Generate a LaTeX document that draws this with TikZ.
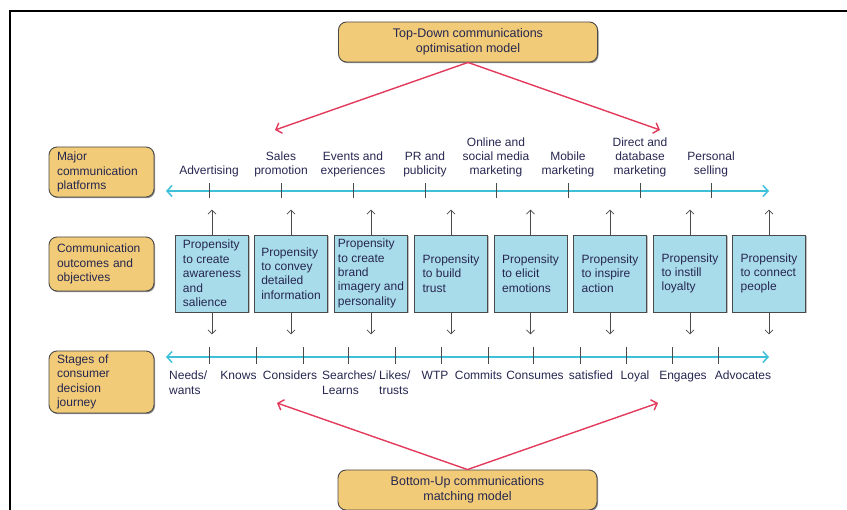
\documentclass[tikz,border=0pt]{standalone}
\usepackage{fontspec}
\setmainfont{Liberation Sans}
\usetikzlibrary{arrows.meta,shadows}
\definecolor{gold}{HTML}{F1CB77}
\definecolor{boxline}{HTML}{4A4A4A}
\definecolor{paleblue}{HTML}{A9DCEA}
\definecolor{cyanl}{HTML}{3EC1D8}
\definecolor{redl}{HTML}{E23A5C}
\definecolor{navy}{HTML}{262650}
\tikzset{
  txt/.style={font=\fontsize{12}{14.4}\selectfont, text=navy, inner sep=0pt},
  goldbox/.style={txt, draw=boxline, fill=gold, rounded corners=8pt, line width=0.9pt,
    drop shadow={shadow xshift=1pt, shadow yshift=-1.2pt, fill=black, opacity=0.45}},
  sidebox/.style={goldbox, text width=89pt, inner xsep=8pt, align=left, minimum width=105pt},
  bluebox/.style={txt, draw=boxline, fill=paleblue, line width=0.9pt, align=left,
    minimum width=73pt, minimum height=77pt,
    drop shadow={shadow xshift=1pt, shadow yshift=-1pt, fill=black, opacity=0.25}},
  redarrow/.style={draw=redl, line width=1.4pt, -{Straight Barb[length=5pt, width=11pt]}},
  cyanline/.style={draw=cyanl, line width=1.5pt, {Straight Barb[length=5pt, width=11pt]}-{Straight Barb[length=5pt, width=11pt]}},
  tickmark/.style={draw=boxline, line width=0.9pt},
  blackarrow/.style={draw=boxline, line width=0.8pt, -{Straight Barb[length=4pt, width=8pt]}},
}
\begin{document}
\begin{tikzpicture}[x=1pt, y=-1pt]
\useasboundingbox (0,0) rectangle (847,510);
% frame
\draw[line width=1.4pt, black] (10,512) -- (10,11) -- (849,11);

% model boxes
\node[goldbox, align=center, minimum width=259pt, minimum height=40pt, font=\fontsize{12.5}{14.8}\selectfont] (top) at (468,42) {Top-Down communications\\optimisation model};
\node[goldbox, align=center, minimum width=259pt, minimum height=40pt, font=\fontsize{12.5}{14.8}\selectfont] (bottom) at (467.5,490) {Bottom-Up communications\\matching model};

\coordinate (tdl) at (275,130);
\coordinate (tdr) at (660,130);
\coordinate (bul) at (277,403);
\coordinate (bur) at (658,403);
\draw[redarrow] (top.south) -- (tdl);
\draw[redarrow] (top.south) -- (tdr);
\draw[redarrow] (bottom.north) -- (bul);
\draw[redarrow] (bottom.north) -- (bur);

% side boxes
\node[sidebox, minimum height=50pt] (platforms) at (101.5,172) {Major\\communication\\platforms};
\node[sidebox, minimum height=54pt] (outcomes) at (101.5,264) {Communication\\outcomes and\\objectives};
\node[sidebox, minimum height=62pt] (stages) at (101.5,382) {Stages of\\consumer\\decision\\journey};

% platform axis
\coordinate (pa0) at (166,191);
\coordinate (pa1) at (769,191);
\draw[cyanline] (pa0) -- (pa1);
\foreach \x in {209,281,353,425,496,568,640,711} \draw[tickmark] (\x,183) -- (\x,198);

\node[txt, anchor=base, align=center] (p1) at (209,175) {Advertising};
\node[txt, anchor=base, align=center] (p2) at (281,175) {Sales\\promotion};
\node[txt, anchor=base, align=center] (p3) at (353,175) {Events and\\experiences};
\node[txt, anchor=base, align=center] (p4) at (425,175) {PR and\\publicity};
\node[txt, anchor=base, align=center] (p5) at (496,175) {Online and\\social media\\marketing};
\node[txt, anchor=base, align=center] (p6) at (568,175) {Mobile\\marketing};
\node[txt, anchor=base, align=center] (p7) at (640,175) {Direct and\\database\\marketing};
\node[txt, anchor=base, align=center] (p8) at (711,175) {Personal\\selling};

% outcome boxes
\node[bluebox] (b1) at (212,273.5) {Propensity\\to create\\awareness\\and\\salience};
\node[bluebox] (b2) at (291,273.5) {Propensity\\to convey\\detailed\\information};
\node[bluebox] (b3) at (371,273.5) {Propensity\\to create\\brand\\imagery and\\personality};
\node[bluebox] (b4) at (451,273.5) {Propensity\\to build\\trust};
\node[bluebox] (b5) at (530.5,273.5) {Propensity\\to elicit\\emotions};
\node[bluebox] (b6) at (610,273.5) {Propensity\\to inspire\\action};
\node[bluebox] (b7) at (690,273.5) {Propensity\\to instill\\loyalty};
\node[bluebox] (b8) at (769,273.5) {Propensity\\to connect\\people};

\foreach \i in {1,...,8} {
  \coordinate (u\i) at ([yshift=25pt]b\i.north);
  \coordinate (d\i) at ([yshift=-22pt]b\i.south);
  \draw[blackarrow] (b\i.north) -- (u\i);
  \draw[blackarrow] (b\i.south) -- (d\i);
}

% journey axis
\coordinate (ja0) at (166,357);
\coordinate (ja1) at (769,357);
\draw[cyanline] (ja0) -- (ja1);
\foreach \x in {209,256,303,348,395,441,488,533,580,626,672,718} \draw[tickmark] (\x,347) -- (\x,364);

\node[txt, anchor=base west, align=left] (s1) at (169,394.4) {Needs/\\wants};
\node[txt, anchor=base] (s2) at (238.5,380) {Knows};
\node[txt, anchor=base] (s3) at (290,380) {Considers};
\node[txt, anchor=base west, align=left] (s4) at (322,394.4) {Searches/\\Learns};
\node[txt, anchor=base west, align=left] (s5) at (379,394.4) {Likes/\\trusts};
\node[txt, anchor=base] (s6) at (435,380) {WTP};
\node[txt, anchor=base] (s7) at (478.5,380) {Commits};
\node[txt, anchor=base] (s8) at (535,380) {Consumes};
\node[txt, anchor=base] (s9) at (591,380) {satisfied};
\node[txt, anchor=base] (s10) at (635,380) {Loyal};
\node[txt, anchor=base] (s11) at (683,380) {Engages};
\node[txt, anchor=base] (s12) at (743,380) {Advocates};
\end{tikzpicture}
\end{document}
